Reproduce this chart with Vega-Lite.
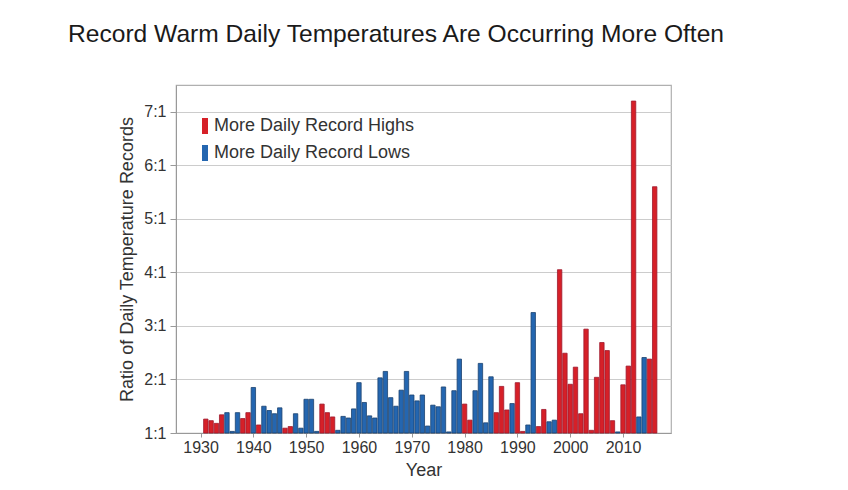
{
  "$schema": "https://vega.github.io/schema/vega-lite/v6.json",
  "autosize": {"type": "none"},
  "width": 495,
  "height": 348,
  "padding": {"left": 176, "top": 85, "right": 177, "bottom": 57},
  "background": "white",
  "config": {
    "font": "Liberation Sans",
    "view": {"stroke": "#b0b0b0", "strokeWidth": 1.2}
  },
  "title": {
    "text": "Record Warm Daily Temperatures Are Occurring More Often",
    "anchor": "start",
    "frame": "group",
    "dx": -108,
    "offset": 37,
    "fontSize": 24.6,
    "fontWeight": "normal",
    "color": "#1a1a1a",
    "font": "Liberation Sans"
  },
  "data": {
    "values": [
      {"year": 1931, "ratio": 1.26, "type": "More Daily Record Highs"},
      {"year": 1932, "ratio": 1.23, "type": "More Daily Record Highs"},
      {"year": 1933, "ratio": 1.18, "type": "More Daily Record Highs"},
      {"year": 1934, "ratio": 1.34, "type": "More Daily Record Highs"},
      {"year": 1935, "ratio": 1.38, "type": "More Daily Record Lows"},
      {"year": 1936, "ratio": 1.03, "type": "More Daily Record Lows"},
      {"year": 1937, "ratio": 1.38, "type": "More Daily Record Lows"},
      {"year": 1938, "ratio": 1.27, "type": "More Daily Record Highs"},
      {"year": 1939, "ratio": 1.38, "type": "More Daily Record Highs"},
      {"year": 1940, "ratio": 1.85, "type": "More Daily Record Lows"},
      {"year": 1941, "ratio": 1.15, "type": "More Daily Record Highs"},
      {"year": 1942, "ratio": 1.5, "type": "More Daily Record Lows"},
      {"year": 1943, "ratio": 1.42, "type": "More Daily Record Lows"},
      {"year": 1944, "ratio": 1.36, "type": "More Daily Record Lows"},
      {"year": 1945, "ratio": 1.47, "type": "More Daily Record Lows"},
      {"year": 1946, "ratio": 1.09, "type": "More Daily Record Highs"},
      {"year": 1947, "ratio": 1.12, "type": "More Daily Record Highs"},
      {"year": 1948, "ratio": 1.36, "type": "More Daily Record Lows"},
      {"year": 1949, "ratio": 1.09, "type": "More Daily Record Lows"},
      {"year": 1950, "ratio": 1.63, "type": "More Daily Record Lows"},
      {"year": 1951, "ratio": 1.63, "type": "More Daily Record Lows"},
      {"year": 1952, "ratio": 1.03, "type": "More Daily Record Lows"},
      {"year": 1953, "ratio": 1.54, "type": "More Daily Record Highs"},
      {"year": 1954, "ratio": 1.38, "type": "More Daily Record Highs"},
      {"year": 1955, "ratio": 1.3, "type": "More Daily Record Highs"},
      {"year": 1956, "ratio": 1.05, "type": "More Daily Record Lows"},
      {"year": 1957, "ratio": 1.31, "type": "More Daily Record Lows"},
      {"year": 1958, "ratio": 1.28, "type": "More Daily Record Lows"},
      {"year": 1959, "ratio": 1.45, "type": "More Daily Record Lows"},
      {"year": 1960, "ratio": 1.94, "type": "More Daily Record Lows"},
      {"year": 1961, "ratio": 1.57, "type": "More Daily Record Lows"},
      {"year": 1962, "ratio": 1.32, "type": "More Daily Record Lows"},
      {"year": 1963, "ratio": 1.28, "type": "More Daily Record Lows"},
      {"year": 1964, "ratio": 2.03, "type": "More Daily Record Lows"},
      {"year": 1965, "ratio": 2.15, "type": "More Daily Record Lows"},
      {"year": 1966, "ratio": 1.66, "type": "More Daily Record Lows"},
      {"year": 1967, "ratio": 1.5, "type": "More Daily Record Lows"},
      {"year": 1968, "ratio": 1.8, "type": "More Daily Record Lows"},
      {"year": 1969, "ratio": 2.15, "type": "More Daily Record Lows"},
      {"year": 1970, "ratio": 1.71, "type": "More Daily Record Lows"},
      {"year": 1971, "ratio": 1.6, "type": "More Daily Record Lows"},
      {"year": 1972, "ratio": 1.71, "type": "More Daily Record Lows"},
      {"year": 1973, "ratio": 1.13, "type": "More Daily Record Lows"},
      {"year": 1974, "ratio": 1.52, "type": "More Daily Record Lows"},
      {"year": 1975, "ratio": 1.49, "type": "More Daily Record Lows"},
      {"year": 1976, "ratio": 1.86, "type": "More Daily Record Lows"},
      {"year": 1977, "ratio": 1.02, "type": "More Daily Record Lows"},
      {"year": 1978, "ratio": 1.79, "type": "More Daily Record Lows"},
      {"year": 1979, "ratio": 2.38, "type": "More Daily Record Lows"},
      {"year": 1980, "ratio": 1.54, "type": "More Daily Record Highs"},
      {"year": 1981, "ratio": 1.24, "type": "More Daily Record Highs"},
      {"year": 1982, "ratio": 1.79, "type": "More Daily Record Lows"},
      {"year": 1983, "ratio": 2.3, "type": "More Daily Record Lows"},
      {"year": 1984, "ratio": 1.19, "type": "More Daily Record Lows"},
      {"year": 1985, "ratio": 2.05, "type": "More Daily Record Lows"},
      {"year": 1986, "ratio": 1.38, "type": "More Daily Record Highs"},
      {"year": 1987, "ratio": 1.87, "type": "More Daily Record Highs"},
      {"year": 1988, "ratio": 1.43, "type": "More Daily Record Highs"},
      {"year": 1989, "ratio": 1.55, "type": "More Daily Record Lows"},
      {"year": 1990, "ratio": 1.94, "type": "More Daily Record Highs"},
      {"year": 1991, "ratio": 1.03, "type": "More Daily Record Highs"},
      {"year": 1992, "ratio": 1.15, "type": "More Daily Record Lows"},
      {"year": 1993, "ratio": 3.25, "type": "More Daily Record Lows"},
      {"year": 1994, "ratio": 1.12, "type": "More Daily Record Highs"},
      {"year": 1995, "ratio": 1.44, "type": "More Daily Record Highs"},
      {"year": 1996, "ratio": 1.21, "type": "More Daily Record Lows"},
      {"year": 1997, "ratio": 1.24, "type": "More Daily Record Lows"},
      {"year": 1998, "ratio": 4.05, "type": "More Daily Record Highs"},
      {"year": 1999, "ratio": 2.49, "type": "More Daily Record Highs"},
      {"year": 2000, "ratio": 1.91, "type": "More Daily Record Highs"},
      {"year": 2001, "ratio": 2.23, "type": "More Daily Record Highs"},
      {"year": 2002, "ratio": 1.36, "type": "More Daily Record Highs"},
      {"year": 2003, "ratio": 2.94, "type": "More Daily Record Highs"},
      {"year": 2004, "ratio": 1.05, "type": "More Daily Record Highs"},
      {"year": 2005, "ratio": 2.04, "type": "More Daily Record Highs"},
      {"year": 2006, "ratio": 2.69, "type": "More Daily Record Highs"},
      {"year": 2007, "ratio": 2.54, "type": "More Daily Record Highs"},
      {"year": 2008, "ratio": 1.23, "type": "More Daily Record Highs"},
      {"year": 2009, "ratio": 1.02, "type": "More Daily Record Lows"},
      {"year": 2010, "ratio": 1.9, "type": "More Daily Record Highs"},
      {"year": 2011, "ratio": 2.25, "type": "More Daily Record Highs"},
      {"year": 2012, "ratio": 7.2, "type": "More Daily Record Highs"},
      {"year": 2013, "ratio": 1.3, "type": "More Daily Record Lows"},
      {"year": 2014, "ratio": 2.41, "type": "More Daily Record Lows"},
      {"year": 2015, "ratio": 2.38, "type": "More Daily Record Highs"},
      {"year": 2016, "ratio": 5.6, "type": "More Daily Record Highs"}
    ]
  },
  "mark": {"type": "bar", "size": 4.4, "strokeWidth": 0.8},
  "encoding": {
    "x": {
      "field": "year",
      "type": "quantitative",
      "scale": {"domain": [1926.3, 2018.14], "nice": false, "zero": false},
      "axis": {
        "title": "Year",
        "values": [1930, 1940, 1950, 1960, 1970, 1980, 1990, 2000, 2010],
        "format": "d",
        "grid": false,
        "labelFontSize": 16,
        "labelColor": "#333333",
        "titleFontSize": 18,
        "titleFontWeight": "normal",
        "titleColor": "#333333",
        "titlePadding": 6,
        "domainColor": "#999999",
        "tickColor": "#999999",
        "tickSize": 4,
        "labelPadding": 2
      }
    },
    "y": {
      "field": "ratio",
      "type": "quantitative",
      "scale": {"domain": [1, 7.5], "nice": false, "zero": false},
      "axis": {
        "title": "Ratio of Daily Temperature Records",
        "values": [1, 2, 3, 4, 5, 6, 7],
        "labelExpr": "datum.value + ':1'",
        "grid": true,
        "gridColor": "#cccccc",
        "gridWidth": 1.2,
        "labelFontSize": 16,
        "labelColor": "#333333",
        "titleFontSize": 18,
        "titleFontWeight": "normal",
        "titleColor": "#333333",
        "titlePadding": 7,
        "domainColor": "#999999",
        "tickColor": "#999999",
        "tickSize": 6,
        "labelPadding": 4
      }
    },
    "y2": {"datum": 1},
    "color": {
      "field": "type",
      "type": "nominal",
      "scale": {
        "domain": ["More Daily Record Highs", "More Daily Record Lows"],
        "range": ["#d62028", "#2466b0"]
      },
      "legend": {
        "title": null,
        "orient": "none",
        "legendX": 20,
        "legendY": 32,
        "symbolType": "M-0.375,-1H0.375V1H-0.375Z",
        "symbolSize": 256,
        "symbolStrokeWidth": 0,
        "labelFontSize": 18,
        "labelLimit": 400,
        "labelColor": "#333333",
        "labelOffset": 0,
        "rowPadding": 9,
        "padding": 0
      }
    },
    "stroke": {
      "field": "type",
      "type": "nominal",
      "scale": {
        "domain": ["More Daily Record Highs", "More Daily Record Lows"],
        "range": ["#9e1b2e", "#1c4270"]
      },
      "legend": null
    }
  }
}
